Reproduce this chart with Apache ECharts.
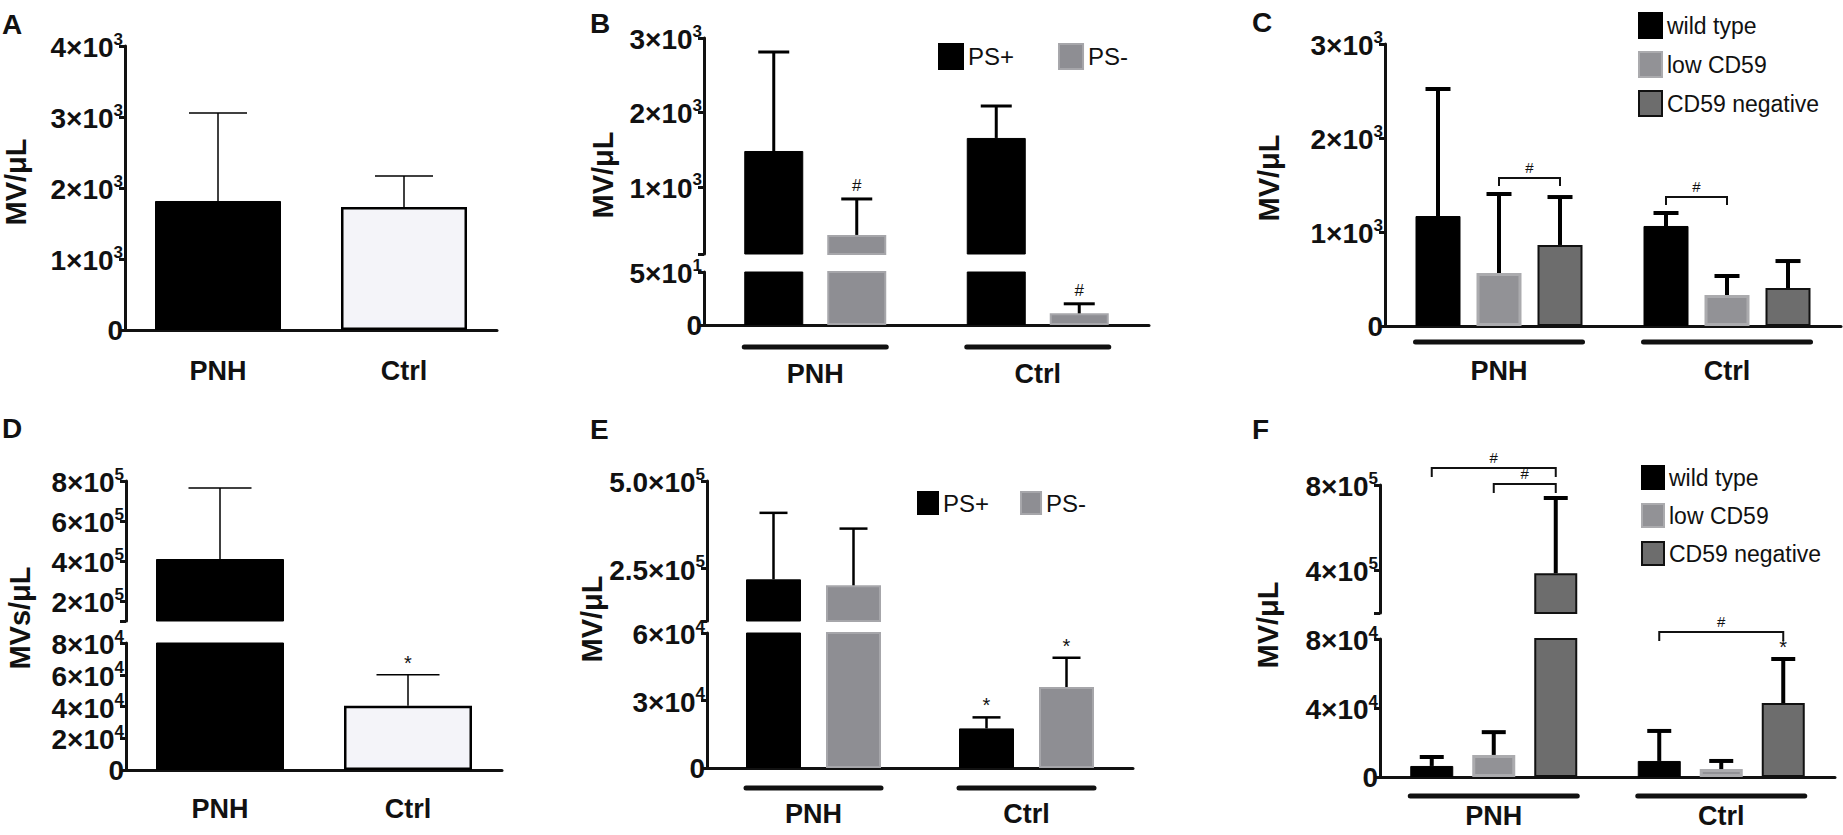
<!DOCTYPE html>
<html>
<head>
<meta charset="utf-8">
<script src="https://cdn.jsdelivr.net/npm/echarts@6.0.0/dist/echarts.min.js"></script>
<style>
  html, body { margin: 0; padding: 0; background: #fff; }
  #chart { width: 1843px; height: 835px; }
</style>
</head>
<body>
<div id="chart"></div>
<script>
// ---- data ----
const groups = ['PNH', 'Ctrl'];

// A: total MV/uL
const aMean = [1817, 1732];
const aSd = [1239, 437];
const aTicks = [0, 1000, 2000, 3000, 4000];

// B: PS+ / PS- MV/uL
const bPosMean = [1483, 1658];
const bPosSd = [1329, 429];
const bNegMean = [356, 11];
const bNegSd = [483, 9];
const bNegMarks = ['#', '#'];
const bTicksHigh = [1000, 2000, 3000];
const bTicksLow = [0, 50];

// C: by CD59 expression
const cWtMean = [1170, 1064];
const cWtSd = [1351, 138];
const cLowMean = [564, 330];
const cLowSd = [840, 202];
const cNegMean = [862, 404];
const cNegSd = [510, 287];
const cTicks = [0, 1000, 2000, 3000];
const cBrackets = [
  { group: 0, from: 1, to: 2, text: '#' },
  { group: 1, from: 0, to: 1, text: '#' }
];

// D: MVs/uL (broken axis)
const dMean = [410000, 40500];
const dSd = [355000, 19500];
const dMarks = ['', '*'];
const dTicksHigh = [200000, 400000, 600000, 800000];
const dTicksLow = [0, 20000, 40000, 60000, 80000];

// E: PS+ / PS- (broken axis)
const ePosMean = [219000, 17600];
const ePosSd = [190000, 4900];
const eNegMean = [202000, 36000];
const eNegSd = [162000, 13000];
const eMarks = ['', '*'];
const eTicksHigh = [250000, 500000];
const eTicksLow = [0, 30000, 60000];

// F: by CD59 expression (broken axis)
const fWtMean = [6400, 9300];
const fWtSd = [5200, 17400];
const fLowMean = [12800, 4600];
const fLowSd = [13200, 4700];
const fNegMean = [386000, 42900];
const fNegSd = [353000, 25500];
const fNegMarks = ['', '*'];
const fTicksHigh = [400000, 800000];
const fTicksLow = [0, 40000, 80000];
const fBrackets = [
  { group: 0, from: 0, to: 2, text: '#' },
  { group: 0, from: 1, to: 2, text: '#' },
  { group: 1, from: 0, to: 2, text: '#' }
];

// ---- styles ----
const FONT = "'Liberation Sans', Arial, Helvetica, sans-serif";
const INK = '#111';
const STY = {
  black: { color: '#000', borderColor: '#000', borderWidth: 1 },
  white: { color: '#f4f4f9', borderColor: '#000', borderWidth: 2.5 },
  psNeg: { color: '#8e8e93', borderColor: '#a6a6aa', borderWidth: 2 },
  low: { color: '#929296', borderColor: '#ababae', borderWidth: 3 },
  neg: { color: '#6d6d6d', borderColor: '#111', borderWidth: 2 }
};
const RICH = {
  b: { fontSize: 28, fontWeight: 'bold', fontFamily: FONT, color: INK, verticalAlign: 'bottom' },
  s: { fontSize: 17, fontWeight: 'bold', fontFamily: FONT, color: INK, verticalAlign: 'bottom', padding: [0, 0, 14, 0] }
};

function sci(v, dec) {
  if (v === 0) return '{b|0}';
  const e = Math.floor(Math.log10(v) + 1e-9);
  const m = v / Math.pow(10, e);
  return '{b|' + m.toFixed(dec) + '×10}{s|' + e + '}';
}

const grids = [], xAxes = [], yAxes = [], series = [], legends = [], graphics = [];

function addPanel(p) {
  const n = p.series.length;
  const total = n * p.barWidth + (n - 1) * p.gap;
  const barX = (cx, i) => cx - total / 2 + p.barWidth / 2 + i * (p.barWidth + p.gap);
  const segAt = v => {
    for (let j = 0; j < p.segs.length; j++) if (v >= p.segs[j].min) return j;
    return p.segs.length - 1;
  };

  const axisIdx = p.segs.map((s, k) => {
    const last = k === p.segs.length - 1;
    const gi = grids.length;
    grids.push({ left: p.left, width: p.width, top: s.top, height: s.height, containLabel: false, outerBoundsMode: 'none' });
    xAxes.push({
      type: 'category', gridIndex: gi, data: groups, show: last,
      axisLine: { lineStyle: { width: 3, color: INK } },
      axisTick: { show: false },
      axisLabel: { margin: p.labelMargin, fontSize: 27, fontWeight: 'bold', fontFamily: FONT, color: INK }
    });
    yAxes.push({
      type: 'value', gridIndex: gi, min: s.min, max: s.max,
      axisLine: { show: true, lineStyle: { width: 3, color: INK } },
      axisTick: { show: true, length: 6, lineStyle: { width: 3, color: INK }, customValues: s.marks },
      axisLabel: { customValues: s.ticks, margin: 2, fontSize: 28, fontWeight: 'bold', fontFamily: FONT,
        showMinLabel: true, showMaxLabel: true, hideOverlap: false,
        formatter: v => sci(v, s.dec), rich: RICH },
      splitLine: { show: false }
    });
    p.series.forEach(sr => series.push({
      type: 'bar', name: sr.name, xAxisIndex: gi, yAxisIndex: gi,
      barWidth: p.barWidth, barGap: (p.gap / p.barWidth * 100) + '%',
      itemStyle: sr.style || {},
      data: sr.mean.map((m, c) => sr.styles ? { value: m, itemStyle: sr.styles[c] } : m),
      clip: true, silent: true
    }));
    return gi;
  });

  // error bars (+ significance marks)
  const errs = [];
  p.series.forEach((sr, i) => sr.mean.forEach((m, c) =>
    errs.push({ c, i, m, sd: sr.sd[c], mark: sr.marks ? sr.marks[c] : '' })));
  p.segs.forEach((s, k) => {
    const recs = errs.filter(e => segAt(e.m + e.sd) === k);
    if (!recs.length) return;
    series.push({
      type: 'custom', xAxisIndex: axisIdx[k], yAxisIndex: axisIdx[k], clip: false, silent: true, z: 5,
      data: recs.map(e => [e.c, e.m + e.sd]),
      renderItem: (params, api) => {
        const e = recs[params.dataIndex];
        const b = api.coord([e.c, e.m]);
        const t = api.coord([e.c, e.m + e.sd]);
        const x = barX(b[0], e.i);
        const st = { stroke: '#000', lineWidth: p.errWidth };
        const ch = [
          { type: 'line', shape: { x1: x, y1: b[1], x2: x, y2: t[1] }, style: st },
          { type: 'line', shape: { x1: x - p.cap / 2, y1: t[1], x2: x + p.cap / 2, y2: t[1] }, style: st }
        ];
        if (e.mark) ch.push({
          type: 'text', x: x, y: t[1] - (e.mark === '*' ? 2 : 5),
          style: { text: e.mark, fill: INK, font: (e.mark === '*' ? '20px ' : '17px ') + FONT, align: 'center', verticalAlign: 'bottom' }
        });
        return { type: 'group', children: ch };
      }
    });
  });

  // group underlines
  if (p.under) {
    const k = p.segs.length - 1;
    series.push({
      type: 'custom', xAxisIndex: axisIdx[k], yAxisIndex: axisIdx[k], clip: false, silent: true,
      data: groups.map((g, c) => [c, 0]),
      renderItem: (params, api) => {
        const c = api.coord([params.dataIndex, 0]);
        return { type: 'line', shape: { x1: c[0] - total / 2, y1: c[1] + p.under, x2: c[0] + total / 2, y2: c[1] + p.under },
          style: { stroke: INK, lineWidth: 5, lineCap: 'round' } };
      }
    });
  }

  // comparison brackets
  (p.brackets || []).forEach((br, bi) => {
    const tops = [br.from, br.to].map(i => p.series[i].mean[br.group] + p.series[i].sd[br.group]);
    const top = Math.max(tops[0], tops[1]);
    const k = segAt(top);
    series.push({
      type: 'custom', xAxisIndex: axisIdx[k], yAxisIndex: axisIdx[k], clip: false, silent: true, z: 5,
      data: [[br.group, top]],
      renderItem: (params, api) => {
        const a = api.coord([br.group, top]);
        const y = a[1] - p.bracketLift[bi];
        const yl = y + p.bracketLeg;
        const x1 = barX(a[0], br.from), x2 = barX(a[0], br.to);
        return { type: 'group', children: [
          { type: 'polyline', shape: { points: [[x1, yl], [x1, y], [x2, y], [x2, yl]] }, style: { stroke: INK, lineWidth: 2, fill: 'none' } },
          { type: 'text', x: (x1 + x2) / 2, y: y - 3, style: { text: br.text, fill: INK, font: '15px ' + FONT, align: 'center', verticalAlign: 'bottom' } }
        ] };
      }
    });
  });

  if (p.legend) legends.push(Object.assign({
    data: p.series.map(s => s.name), selectedMode: false, icon: 'rect',
    textStyle: { fontSize: 23, fontFamily: FONT, color: INK }
  }, p.legend));

  graphics.push({ type: 'text', x: p.letter[1], y: p.letter[2],
    style: { text: p.letter[0], font: 'bold 28px ' + FONT, fill: INK, textAlign: 'left', textVerticalAlign: 'middle', align: 'left', verticalAlign: 'middle' } });
  graphics.push({ type: 'text', x: p.title[1], y: p.title[2], rotation: Math.PI / 2,
    style: { text: p.title[0], font: 'bold 29px ' + FONT, fill: INK, textAlign: 'center', textVerticalAlign: 'middle', align: 'center', verticalAlign: 'middle' } });
}

addPanel({
  letter: ['A', 2, 24], title: ['MV/μL', 16, 182],
  left: 125, width: 372, barWidth: 126, gap: 0, labelMargin: 27,
  errWidth: 1.5, cap: 58,
  segs: [{ top: 46, height: 284, min: 0, max: 4000, ticks: aTicks, marks: aTicks, dec: 0 }],
  series: [{ name: 'MV', mean: aMean, sd: aSd, styles: [STY.black, STY.white] }]
});

addPanel({
  letter: ['B', 590, 23], title: ['MV/μL', 603, 175],
  left: 704, width: 445, barWidth: 59, gap: 24, labelMargin: 35, under: 22,
  errWidth: 3, cap: 31,
  segs: [
    { top: 38, height: 216, min: 100, max: 3000, ticks: bTicksHigh, marks: [100].concat(bTicksHigh), dec: 0 },
    { top: 272, height: 53, min: 0, max: 50, ticks: bTicksLow, marks: bTicksLow, dec: 0 }
  ],
  series: [
    { name: 'PS+', mean: bPosMean, sd: bPosSd, style: STY.black },
    { name: 'PS-', mean: bNegMean, sd: bNegSd, style: STY.psNeg, marks: bNegMarks }
  ],
  legend: { left: 933, top: 38, orient: 'horizontal', itemWidth: 24, itemHeight: 25, itemGap: 44,
    textStyle: { fontSize: 24, fontFamily: FONT, color: INK } }
});

addPanel({
  letter: ['C', 1252, 22], title: ['MV/μL', 1269, 178],
  left: 1385, width: 456, barWidth: 45, gap: 16, labelMargin: 31, under: 16,
  errWidth: 4, cap: 25, bracketLift: [16, 16], bracketLeg: 8,
  segs: [{ top: 44, height: 282, min: 0, max: 3000, ticks: cTicks, marks: cTicks, dec: 0 }],
  series: [
    { name: 'wild type', mean: cWtMean, sd: cWtSd, style: STY.black },
    { name: 'low CD59', mean: cLowMean, sd: cLowSd, style: STY.low },
    { name: 'CD59 negative', mean: cNegMean, sd: cNegSd, style: STY.neg }
  ],
  brackets: cBrackets,
  legend: { left: 1633, top: 7, orient: 'vertical', itemWidth: 23, itemHeight: 25, itemGap: 12 }
});

addPanel({
  letter: ['D', 2, 428], title: ['MVs/μL', 20, 618],
  left: 126, width: 376, barWidth: 128, gap: 0, labelMargin: 25,
  errWidth: 1.5, cap: 63,
  segs: [
    { top: 481, height: 140, min: 100000, max: 800000, ticks: dTicksHigh, marks: [100000].concat(dTicksHigh), dec: 0 },
    { top: 643, height: 127, min: 0, max: 80000, ticks: dTicksLow, marks: dTicksLow, dec: 0 }
  ],
  series: [{ name: 'MVs', mean: dMean, sd: dSd, styles: [STY.black, STY.white], marks: dMarks }]
});

addPanel({
  letter: ['E', 590, 429], title: ['MV/μL', 592, 619],
  left: 707, width: 426, barWidth: 55, gap: 25, labelMargin: 32, under: 20,
  errWidth: 2.5, cap: 28,
  segs: [
    { top: 481, height: 140, min: 100000, max: 500000, ticks: eTicksHigh, marks: [100000].concat(eTicksHigh), dec: 1 },
    { top: 633, height: 135, min: 0, max: 60000, ticks: eTicksLow, marks: eTicksLow, dec: 0 }
  ],
  series: [
    { name: 'PS+', mean: ePosMean, sd: ePosSd, style: STY.black, marks: eMarks },
    { name: 'PS-', mean: eNegMean, sd: eNegSd, style: STY.psNeg, marks: eMarks }
  ],
  legend: { left: 912, top: 486, orient: 'horizontal', itemWidth: 20, itemHeight: 22, itemGap: 31,
    textStyle: { fontSize: 24, fontFamily: FONT, color: INK } }
});

addPanel({
  letter: ['F', 1252, 429], title: ['MV/μL', 1268, 625],
  left: 1380, width: 455, barWidth: 43, gap: 19, labelMargin: 25, under: 19,
  errWidth: 4, cap: 24, bracketLift: [30, 14, 27], bracketLeg: 9,
  segs: [
    { top: 485, height: 128, min: 200000, max: 800000, ticks: fTicksHigh, marks: [200000].concat(fTicksHigh), dec: 0 },
    { top: 639, height: 138, min: 0, max: 80000, ticks: fTicksLow, marks: fTicksLow, dec: 0 }
  ],
  series: [
    { name: 'wild type', mean: fWtMean, sd: fWtSd, style: STY.black },
    { name: 'low CD59', mean: fLowMean, sd: fLowSd, style: STY.low },
    { name: 'CD59 negative', mean: fNegMean, sd: fNegSd, style: STY.neg, marks: fNegMarks }
  ],
  brackets: fBrackets,
  legend: { left: 1636, top: 460, orient: 'vertical', itemWidth: 22, itemHeight: 23, itemGap: 13 }
});

const chart = echarts.init(document.getElementById('chart'), null, { renderer: 'svg' });
chart.setOption({
  animation: false,
  backgroundColor: '#fff',
  tooltip: { show: false },
  grid: grids,
  xAxis: xAxes,
  yAxis: yAxes,
  legend: legends,
  graphic: graphics,
  series: series
});
</script>
</body>
</html>
